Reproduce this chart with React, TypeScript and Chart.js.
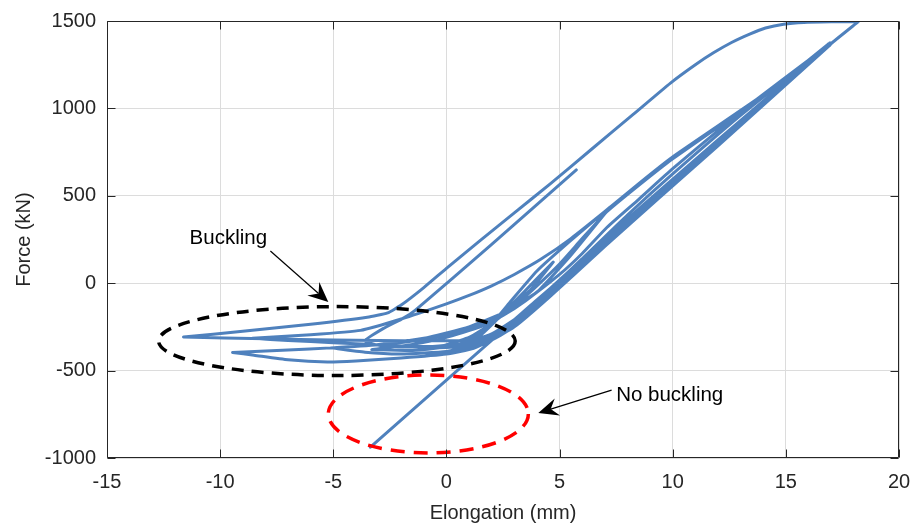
import React, { useEffect, useRef } from "react";
import { Chart, registerables } from "chart.js";

Chart.register(...registerables);

// ---- Axes ----
const X_MIN = -15;
const X_MAX = 20;
const Y_MIN = -1000;
const Y_MAX = 1500;
const xTickValues = [-15, -10, -5, 0, 5, 10, 15, 20];
const yTickValues = [-1000, -500, 0, 500, 1000, 1500];
const xTitle = "Elongation (mm)";
const yTitle = "Force (kN)";

// ---- Hysteresis path (elongation mm, force kN) ----
const initialLoadX = [-3.36, 0, 5, 10, 16.95];
const initialLoadY = [-938, -555, 15, 585, 1375];

const unload1X = [16.95, 12, 7, 4.5, 3, 2, 1, 0, -0.7];
const unload1Y = [1375, 790, 210, -85, -250, -325, -358, -368, -370];
const reload1X = [-0.7, 0.5, 2, 3.2, 4.5, 6, 8, 10, 13, 16.9];
const reload1Y = [-370, -352, -290, -190, -45, 140, 390, 625, 960, 1370];

const unload2X = [16.9, 12, 7, 4.2, 2.8, 1.5, 0, -2, -3.6, -5.1];
const unload2Y = [1370, 810, 240, -80, -250, -348, -390, -405, -395, -370];
const reload2aX = [-5.1, -3, -1, 1, 2.5, 4, 5.5, 7.24];
const reload2aY = [-370, -350, -315, -250, -170, -50, 160, 436];
const unload2aX = [7.24, 5.5, 4, 2.8, 1.8, 0.5, -1.5, -3.3];
const unload2aY = [436, 245, 70, -110, -260, -352, -385, -380];
const reload2X = [-3.3, -1.5, 0, 1.5, 2.5, 3.5, 5, 6, 7.1, 8.5, 10, 13.5, 16.95];
const reload2Y = [-380, -350, -310, -250, -185, -100, 50, 170, 320, 480, 655, 1030, 1368];

const unload3X = [16.95, 12, 7, 4, 2.5, 1.2, 0, -2, -4, -5.26, -7, -8.5, -9.45];
const unload3Y = [1368, 820, 255, -100, -290, -372, -405, -428, -445, -451, -438, -412, -396];
const reload3aX = [-9.45, -7, -5.1, -3, -1, 1, 2.5, 3.7, 4.72];
const reload3aY = [-396, -382, -370, -352, -322, -262, -170, -40, 121];
const unload3aX = [4.72, 3.5, 2.3, 1.2, -0.5];
const unload3aY = [121, -40, -200, -330, -372];
const reload3X = [-0.5, 1, 2, 3, 4, 5, 6, 7.1, 8.5, 10, 13.86, 16.96];
const reload3Y = [-372, -310, -230, -130, -15, 110, 255, 410, 560, 712, 1062, 1365];

const unload4X = [16.96, 12, 7, 4, 2.5, 1, -1, -3, -5, -7, -8.57];
const unload4Y = [1365, 800, 232, -108, -285, -352, -362, -352, -340, -328, -315];
const reload4X = [-8.57, -6, -3.8, -2, 0, 1, 2, 3, 4.15, 5.5, 7.1, 8.5, 9.98, 13.86, 16.96];
const reload4Y = [-315, -295, -270, -205, -118, -70, -15, 50, 135, 255, 420, 570, 721, 1065, 1363];

const unload5X = [16.96, 12, 7, 4, 2.5, 1, -1, -3, -5, -8, -11.62];
const unload5Y = [1363, 785, 215, -120, -280, -325, -330, -328, -325, -318, -308];
const reload5X = [-11.62, -9, -6, -3.5, -2.6, -2, -1, 0, 1.5, 3, 4.6, 6.4, 8.2, 9.9, 11, 11.8, 12.6, 13.4, 14.1, 14.9, 15.8, 17, 18.2];
const reload5Y = [-308, -275, -235, -195, -170, -125, -25, 85, 245, 402, 570, 765, 960, 1145, 1250, 1318, 1377, 1425, 1460, 1482, 1492, 1495, 1496];

const finalX = [18.2, 16.9, 12, 7, 4, 2.5, 1, -1, -2.8, -3.6, -2.8, -1.9, -1.37, 2, 5.74];
const finalY = [1496, 1360, 805, 240, -95, -262, -340, -365, -360, -330, -260, -200, -154, 222, 648];

const pathSegments: [number[], number[]][] = [
  [initialLoadX, initialLoadY],
  [unload1X, unload1Y],
  [reload1X, reload1Y],
  [unload2X, unload2Y],
  [reload2aX, reload2aY],
  [unload2aX, unload2aY],
  [reload2X, reload2Y],
  [unload3X, unload3Y],
  [reload3aX, reload3aY],
  [unload3aX, unload3aY],
  [reload3X, reload3Y],
  [unload4X, unload4Y],
  [reload4X, reload4Y],
  [unload5X, unload5Y],
  [reload5X, reload5Y],
  [finalX, finalY],
];

// ---- Annotations (data coordinates) ----
const bucklingEllipse = { cx: -4.84, cy: -331, rx: 7.88, ry: 197 };
const noBucklingEllipse = { cx: -0.8, cy: -748, rx: 4.42, ry: 223 };
const bucklingLabel = { text: "Buckling", x: -11.35, y: 258 };
const bucklingArrow = { x0: -7.78, y0: 184, x1: -5.22, y1: -108 };
const noBucklingLabel = { text: "No buckling", x: 7.5, y: -640 };
const noBucklingArrow = { x0: 7.3, y0: -612, x1: 4.06, y1: -742 };

const FONT = "'Liberation Sans', Arial, Helvetica, sans-serif";
const TEXT_COLOR = "#262626";
const LINE_COLOR = "#4f81bd";

function drawArrow(ctx: CanvasRenderingContext2D, x0: number, y0: number, x1: number, y1: number) {
  const dx = x1 - x0;
  const dy = y1 - y0;
  const len = Math.hypot(dx, dy);
  const ux = dx / len;
  const uy = dy / len;
  const nx = -uy;
  const ny = ux;
  const L = 20;
  const W = 9;
  const notch = 13;
  ctx.strokeStyle = "#000";
  ctx.lineWidth = 1.2;
  ctx.setLineDash([]);
  ctx.beginPath();
  ctx.moveTo(x0, y0);
  ctx.lineTo(x1 - ux * notch, y1 - uy * notch);
  ctx.stroke();
  ctx.fillStyle = "#000";
  ctx.beginPath();
  ctx.moveTo(x1, y1);
  ctx.lineTo(x1 - ux * L + nx * W, y1 - uy * L + ny * W);
  ctx.lineTo(x1 - ux * notch, y1 - uy * notch);
  ctx.lineTo(x1 - ux * L - nx * W, y1 - uy * L - ny * W);
  ctx.closePath();
  ctx.fill();
}

const annotationPlugin = {
  id: "annotations",
  afterDatasetsDraw(chart: any) {
    const { ctx, scales } = chart;
    const xs = scales.x;
    const ys = scales.y;
    const px = (v: number) => xs.getPixelForValue(v);
    const py = (v: number) => ys.getPixelForValue(v);
    ctx.save();

    const ellipse = (e: any, color: string, dash: number[]) => {
      const cx = px(e.cx);
      const cy = py(e.cy);
      const rx = Math.abs(px(e.cx + e.rx) - cx);
      const ry = Math.abs(py(e.cy + e.ry) - cy);
      ctx.strokeStyle = color;
      ctx.lineWidth = 3.5;
      ctx.setLineDash(dash);
      ctx.beginPath();
      ctx.ellipse(cx, cy, rx, ry, 0, 0, Math.PI * 2);
      ctx.stroke();
    };
    ellipse(bucklingEllipse, "#000000", [12, 8]);
    ellipse(noBucklingEllipse, "#ff0000", [14, 9]);

    drawArrow(ctx, px(bucklingArrow.x0), py(bucklingArrow.y0), px(bucklingArrow.x1), py(bucklingArrow.y1));
    drawArrow(ctx, px(noBucklingArrow.x0), py(noBucklingArrow.y0), px(noBucklingArrow.x1), py(noBucklingArrow.y1));

    ctx.fillStyle = "#000";
    ctx.font = `20.5px ${FONT}`;
    ctx.textAlign = "left";
    ctx.textBaseline = "middle";
    ctx.fillText(bucklingLabel.text, px(bucklingLabel.x), py(bucklingLabel.y));
    ctx.fillText(noBucklingLabel.text, px(noBucklingLabel.x), py(noBucklingLabel.y));
    ctx.restore();
  },
  afterDraw(chart: any) {
    const { ctx, chartArea, scales } = chart;
    const l = Math.round(chartArea.left) + 0.5;
    const r = Math.round(chartArea.right) - 0.5;
    const t = Math.round(chartArea.top) + 0.5;
    const b = Math.round(chartArea.bottom) - 0.5;
    ctx.save();
    ctx.strokeStyle = TEXT_COLOR;
    ctx.lineWidth = 1;
    ctx.setLineDash([]);
    ctx.beginPath();
    ctx.rect(l, t, r - l, b - t);
    const T = 8;
    for (const v of xTickValues) {
      const x = Math.round(scales.x.getPixelForValue(v)) + 0.5;
      ctx.moveTo(x, b);
      ctx.lineTo(x, b - T);
      ctx.moveTo(x, t);
      ctx.lineTo(x, t + T);
    }
    for (const v of yTickValues) {
      const y = Math.round(scales.y.getPixelForValue(v)) + 0.5;
      ctx.moveTo(l, y);
      ctx.lineTo(l + T, y);
      ctx.moveTo(r, y);
      ctx.lineTo(r - T, y);
    }
    ctx.stroke();
    ctx.restore();
  },
};

export default function App() {
  const canvasRef = useRef<HTMLCanvasElement | null>(null);

  useEffect(() => {
    if (!canvasRef.current) return;
    const points: { x: number; y: number }[] = [];
    for (const [xs, ys] of pathSegments) {
      xs.forEach((xv, i) => points.push({ x: xv, y: ys[i] }));
    }
    const tickFont = { family: FONT, size: 20 };
    const zeroPad = (s: any) => {
      s.paddingLeft = 0;
      s.paddingRight = 0;
      s.paddingTop = 0;
      s.paddingBottom = 0;
    };
    const chart = new Chart(canvasRef.current, {
      type: "line",
      data: {
        datasets: [
          {
            data: points,
            borderColor: LINE_COLOR,
            borderWidth: 3,
            pointRadius: 0,
            fill: false,
            tension: 0.15,
            borderJoinStyle: "round",
            borderCapStyle: "round",
          } as any,
        ],
      },
      options: {
        animation: false,
        responsive: false,
        maintainAspectRatio: false,
        events: [],
        layout: { padding: { top: 21, right: 13, left: 0, bottom: 0 } },
        plugins: { legend: { display: false }, tooltip: { enabled: false } },
        scales: {
          x: {
            type: "linear",
            min: X_MIN,
            max: X_MAX,
            afterBuildTicks: (s: any) => {
              s.ticks = xTickValues.map((v) => ({ value: v }));
            },
            afterFit: (s: any) => {
              s.height = 67;
              zeroPad(s);
            },
            ticks: {
              font: tickFont,
              color: TEXT_COLOR,
              padding: 12,
              maxRotation: 0,
              autoSkip: false,
              callback: (v: any) => String(v),
            },
            grid: { color: "#dcdcdc", lineWidth: 1, drawTicks: false },
            border: { display: false },
            title: {
              display: true,
              text: xTitle,
              font: tickFont,
              color: TEXT_COLOR,
              padding: { top: 0, bottom: 0 },
            },
          },
          y: {
            type: "linear",
            min: Y_MIN,
            max: Y_MAX,
            afterBuildTicks: (s: any) => {
              s.ticks = yTickValues.map((v) => ({ value: v }));
            },
            afterFit: (s: any) => {
              s.width = 107;
              zeroPad(s);
            },
            ticks: {
              font: tickFont,
              color: TEXT_COLOR,
              padding: 11,
              autoSkip: false,
              callback: (v: any) => String(v),
            },
            grid: { color: "#dcdcdc", lineWidth: 1, drawTicks: false },
            border: { display: false },
            title: {
              display: true,
              text: yTitle,
              font: tickFont,
              color: TEXT_COLOR,
              padding: { top: 12, bottom: 0 },
            },
          },
        },
      } as any,
      plugins: [annotationPlugin],
    });
    return () => chart.destroy();
  }, []);

  return (
    <div style={{ position: "fixed", left: 0, top: 0, width: 912, height: 525, background: "#fff" }}>
      <canvas ref={canvasRef} width={912} height={525} style={{ display: "block" }} />
    </div>
  );
}
